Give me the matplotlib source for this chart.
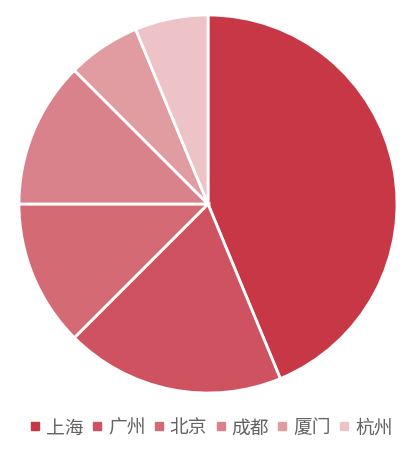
import matplotlib
matplotlib.use("Agg")
import matplotlib.pyplot as plt
from matplotlib.lines import Line2D

plt.rcParams['font.family'] = ['Noto Sans CJK SC', 'DejaVu Sans']

# data
cities = ["上海", "广州", "北京", "成都", "厦门", "杭州"]
values = [7, 3, 2, 2, 1, 1]
colors = ["#C83746", "#CE525F", "#D46A74", "#DA828B", "#E19CA2", "#EDC3C8"]

W, H = 419, 456
fig = plt.figure(figsize=(W / 100, H / 100), dpi=100)

# pie centre ~ (208, 205) px, radius ~188 px
cx, cy, r = 208, 205, 189
ax = fig.add_axes([(cx - r) / W, (H - cy - r) / H, 2 * r / W, 2 * r / H])
ax.pie(values, colors=colors, startangle=90, counterclock=False,
       radius=1, wedgeprops=dict(edgecolor="white", linewidth=2))
ax.set_xlim(-1, 1)
ax.set_ylim(-1, 1)
ax.set_aspect("equal")
ax.axis("off")

handles = [Line2D([], [], marker="s", linestyle="none", markersize=5.5,
                  markerfacecolor=c, markeredgecolor=c) for c in colors]
fig.legend(handles, cities, loc="center", bbox_to_anchor=(0.505, 1 - 428 / H),
           ncol=6, frameon=False, fontsize=13.5, labelcolor="#636363",
           handlelength=0.5, handletextpad=0.35, columnspacing=0.45)

fig.savefig("out.png", dpi=100)
